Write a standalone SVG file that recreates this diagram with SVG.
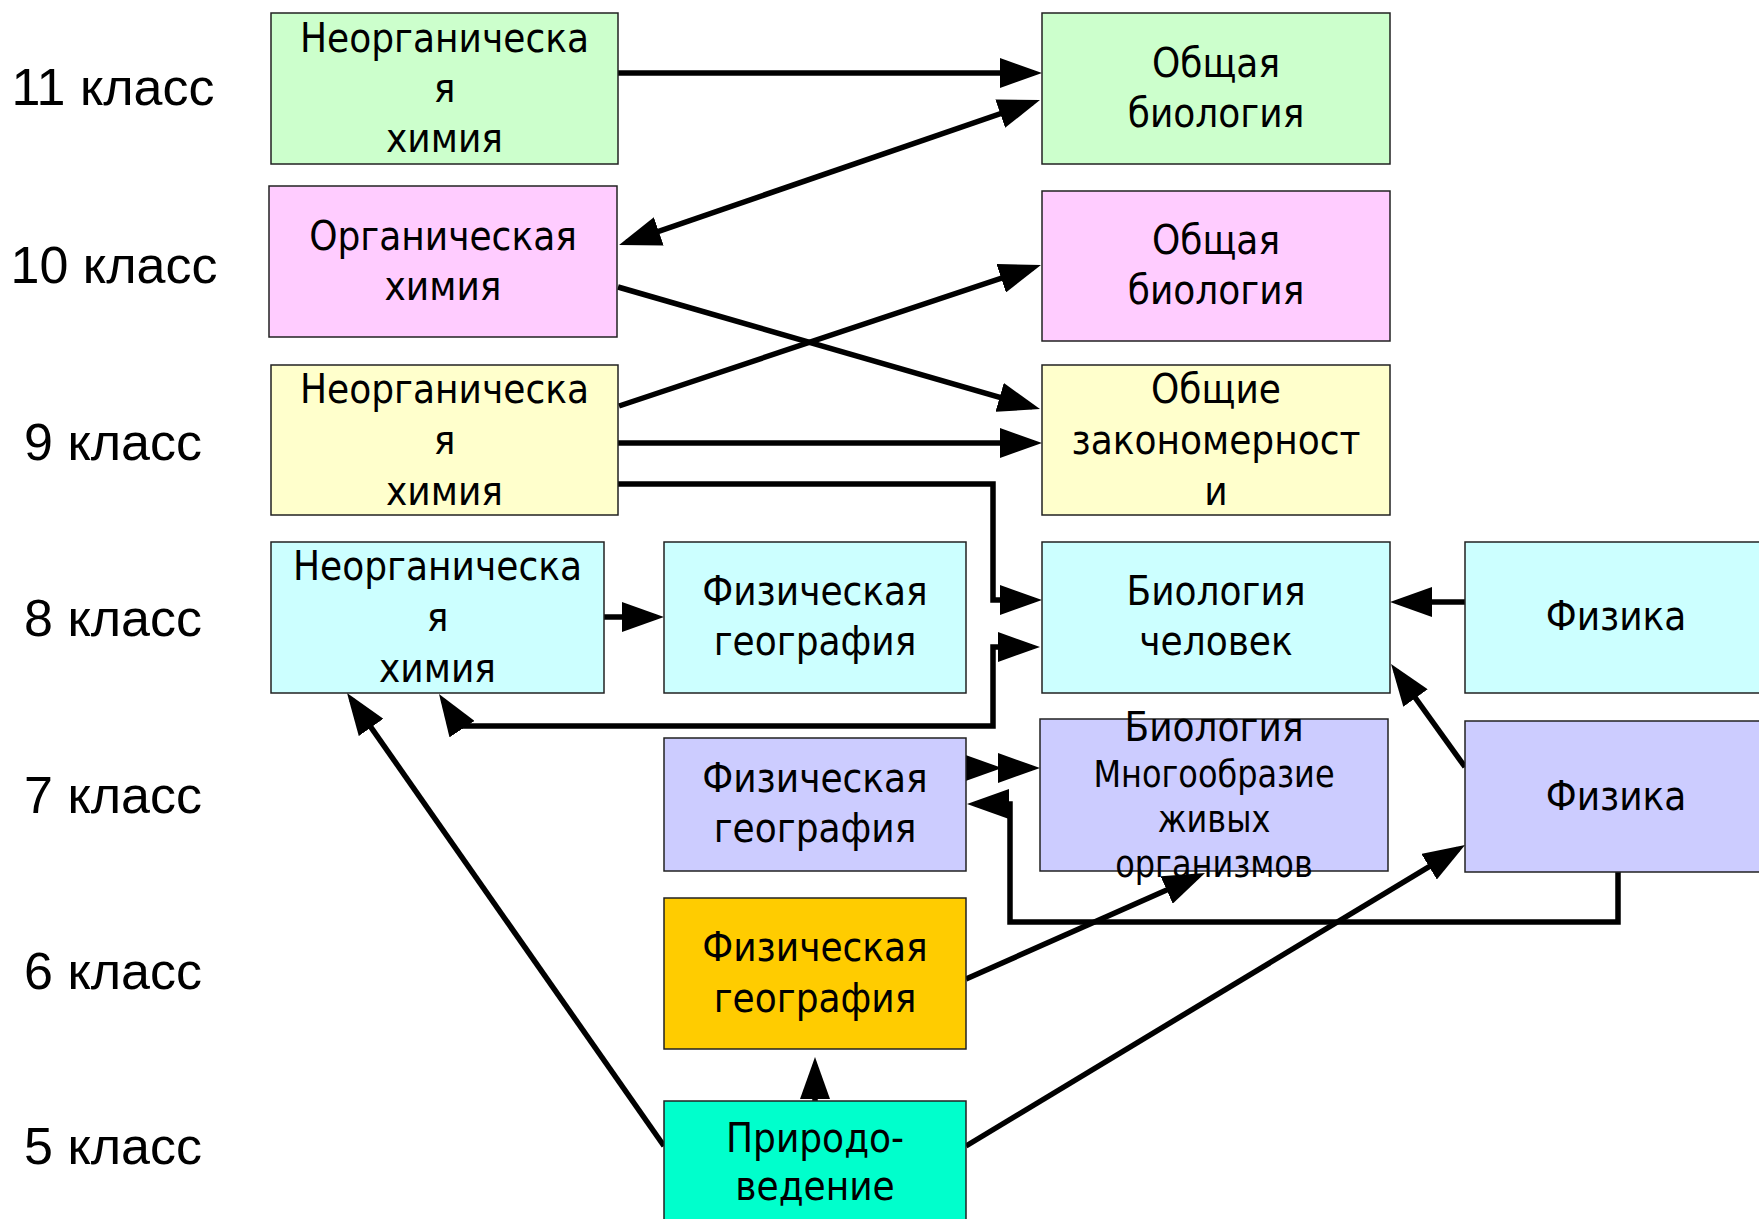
<svg xmlns="http://www.w3.org/2000/svg" width="1759" height="1219" viewBox="0 0 1759 1219">
<style>
.box{stroke:#222;stroke-width:1.5}
.t{font-family:"DejaVu Sans",Verdana,sans-serif;font-size:36px;fill:#000;text-anchor:middle}
.s{font-size:32px}
.lbl{font-family:"Liberation Sans",Arial,sans-serif;font-size:52px;fill:#000;text-anchor:middle}
.c{fill:none;stroke:#000;stroke-width:5.5;stroke-linejoin:miter}
.green{fill:#CCFFCC}.pink{fill:#FFCCFF}.yellow{fill:#FFFFCC}.cyan{fill:#CCFFFF}.lav{fill:#CCCCFF}.orange{fill:#FFCC00}.teal{fill:#00FFCC}
</style>
<defs>
<marker id="ah" viewBox="0 0 42 30" refX="34" refY="15" markerWidth="42" markerHeight="30" markerUnits="userSpaceOnUse" orient="auto-start-reverse">
<path d="M0,0 L42,15 L0,30 Z" fill="#000"/>
</marker>
</defs>
<rect width="1759" height="1219" fill="#fff"/>
<g id="labels">
<text class="lbl" x="113" y="105">11 класс</text>
<text class="lbl" x="114" y="283">10 класс</text>
<text class="lbl" x="113" y="460">9 класс</text>
<text class="lbl" x="113" y="636">8 класс</text>
<text class="lbl" x="113" y="813">7 класс</text>
<text class="lbl" x="113" y="989">6 класс</text>
<text class="lbl" x="113" y="1164">5 класс</text>
</g>
<g id="connectors">
<path class="c" d="M618,73 L1034,73" marker-end="url(#ah)"/>
<path class="c" d="M626.6,242.4 L1032.4,102.6" marker-start="url(#ah)" marker-end="url(#ah)"/>
<path class="c" d="M618,287 L1032.3,406.8" marker-end="url(#ah)"/>
<path class="c" d="M619,406 L1033.4,267.5" marker-end="url(#ah)"/>
<path class="c" d="M618,443 L1034,443" marker-end="url(#ah)"/>
<path class="c" d="M618,484 L993,484 L993,600 L1034,600" marker-end="url(#ah)"/>
<path class="c" d="M1032,647 L993,647 L993,726 L460,726 L443.4,700.7" marker-start="url(#ah)" marker-end="url(#ah)"/>
<path class="c" d="M604,617 L656,617" marker-end="url(#ah)"/>
<path class="c" d="M1465,602 L1398,602" marker-end="url(#ah)"/>
<path class="c" d="M1465,767 L1395.7,670.5" marker-end="url(#ah)"/>
<path class="c" d="M966,768 L994,768" marker-end="url(#ah)"/>
<path class="c" d="M1000,768 L1032,768" marker-end="url(#ah)"/>
<path class="c" d="M1618,872 L1618,922 L1010,922 L1010,804 L975,804" marker-end="url(#ah)"/>
<path class="c" d="M966,979 L1197.7,876.2" marker-end="url(#ah)"/>
<path class="c" d="M966,1146 L1458.2,849.1" marker-end="url(#ah)"/>
<path class="c" d="M815,1101 L815,1065" marker-end="url(#ah)"/>
<path class="c" d="M664,1146 L351.6,699.6" marker-end="url(#ah)"/>
</g>
<g id="n11-chem">
<rect class="box green" x="271" y="13" width="347" height="151"/>
<text class="t" transform="translate(444.5,52) scale(1,1.15)">Неорганическа</text>
<text class="t" transform="translate(444.5,102) scale(1,1.15)">я</text>
<text class="t" transform="translate(444.5,152) scale(1,1.15)">химия</text>
</g>
<g id="n11-bio">
<rect class="box green" x="1042" y="13" width="348" height="151"/>
<text class="t" transform="translate(1216,77) scale(1,1.15)">Общая</text>
<text class="t" transform="translate(1216,127) scale(1,1.15)">биология</text>
</g>
<g id="n10-chem">
<rect class="box pink" x="269" y="186" width="348" height="151"/>
<text class="t" transform="translate(443,250) scale(1,1.15)">Органическая</text>
<text class="t" transform="translate(443,300) scale(1,1.15)">химия</text>
</g>
<g id="n10-bio">
<rect class="box pink" x="1042" y="191" width="348" height="150"/>
<text class="t" transform="translate(1216,254) scale(1,1.15)">Общая</text>
<text class="t" transform="translate(1216,304) scale(1,1.15)">биология</text>
</g>
<g id="n9-chem">
<rect class="box yellow" x="271" y="365" width="347" height="150"/>
<text class="t" transform="translate(444.5,403) scale(1,1.15)">Неорганическа</text>
<text class="t" transform="translate(444.5,454) scale(1,1.15)">я</text>
<text class="t" transform="translate(444.5,505) scale(1,1.15)">химия</text>
</g>
<g id="n9-bio">
<rect class="box yellow" x="1042" y="365" width="348" height="150"/>
<text class="t" transform="translate(1216,403) scale(1,1.15)">Общие</text>
<text class="t" transform="translate(1216,454) scale(1,1.15)">закономерност</text>
<text class="t" transform="translate(1216,505) scale(1,1.15)">и</text>
</g>
<g id="n8-chem">
<rect class="box cyan" x="271" y="542" width="333" height="151"/>
<text class="t" transform="translate(437.5,580) scale(1,1.15)">Неорганическа</text>
<text class="t" transform="translate(437.5,631) scale(1,1.15)">я</text>
<text class="t" transform="translate(437.5,682) scale(1,1.15)">химия</text>
</g>
<g id="n8-geo">
<rect class="box cyan" x="664" y="542" width="302" height="151"/>
<text class="t" transform="translate(815,605) scale(1,1.15)">Физическая</text>
<text class="t" transform="translate(815,655) scale(1,1.15)">география</text>
</g>
<g id="n8-bio">
<rect class="box cyan" x="1042" y="542" width="348" height="151"/>
<text class="t" transform="translate(1216,605) scale(1,1.15)">Биология</text>
<text class="t" transform="translate(1216,655) scale(1,1.15)">человек</text>
</g>
<g id="n8-phys">
<rect class="box cyan" x="1465" y="542" width="302" height="151"/>
<text class="t" transform="translate(1616,630) scale(1,1.15)">Физика</text>
</g>
<g id="n7-geo">
<rect class="box lav" x="664" y="738" width="302" height="133"/>
<text class="t" transform="translate(815,792) scale(1,1.15)">Физическая</text>
<text class="t" transform="translate(815,842) scale(1,1.15)">география</text>
</g>
<g id="n7-bio">
<rect class="box lav" x="1040" y="719" width="348" height="152"/>
<text class="t" transform="translate(1214,741) scale(1,1.15)">Биология</text>
<text class="t s" transform="translate(1214,787) scale(1,1.15)">Многообразие</text>
<text class="t s" transform="translate(1214,832) scale(1,1.15)">живых</text>
<text class="t s" transform="translate(1214,877) scale(1,1.15)">организмов</text>
</g>
<g id="n7-phys">
<rect class="box lav" x="1465" y="721" width="302" height="151"/>
<text class="t" transform="translate(1616,810) scale(1,1.15)">Физика</text>
</g>
<g id="n6-geo">
<rect class="box orange" x="664" y="898" width="302" height="151"/>
<text class="t" transform="translate(815,961) scale(1,1.15)">Физическая</text>
<text class="t" transform="translate(815,1012) scale(1,1.15)">география</text>
</g>
<g id="n5-nat">
<rect class="box teal" x="664" y="1101" width="302" height="140"/>
<text class="t" transform="translate(815,1152) scale(1,1.15)">Природо-</text>
<text class="t" transform="translate(815,1200) scale(1,1.15)">ведение</text>
</g>
</svg>
